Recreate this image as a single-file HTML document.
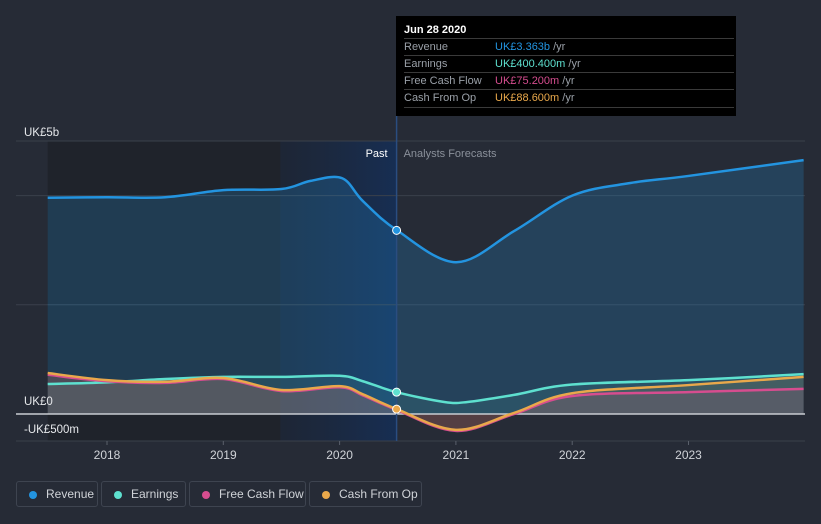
<!DOCTYPE html>
<html><head><meta charset="utf-8"><style>
body{margin:0;background:#262b36;font-family:"Liberation Sans",sans-serif;}
#wrap{position:relative;width:821px;height:524px;overflow:hidden;}
.leg{position:absolute;top:481px;height:26px;border:1px solid #3e4450;border-radius:3px;color:#d0d3d8;font-size:12px;line-height:25px;padding:0 0 0 29px;box-sizing:border-box;white-space:nowrap}
.leg i{position:absolute;left:12px;top:9px;width:8px;height:8px;border-radius:50%}
#tip{position:absolute;left:396px;top:16px;width:340px;height:100px;background:#000;font-size:11px;color:#9aa0a8}
#tip .r{position:absolute;left:8px;width:330px;border-top:1px solid #3a3a3a;height:17px;line-height:17px}
#tip .r b{font-weight:normal;position:absolute;left:91px}
</style></head><body><div id="wrap">
<svg id="svg" width="821" height="524" style="position:absolute;left:0;top:0"></svg>
<div id="tip">
<div style="position:absolute;left:8px;top:8px;color:#fff;font-weight:bold;font-size:11px">Jun 28 2020</div>
<div class="r" style="top:22px">Revenue<b><span style="color:#2394e0">UK£3.363b</span> /yr</b></div>
<div class="r" style="top:39px">Earnings<b><span style="color:#5ee0cf">UK£400.400m</span> /yr</b></div>
<div class="r" style="top:56px">Free Cash Flow<b><span style="color:#d64d8f">UK£75.200m</span> /yr</b></div>
<div class="r" style="top:73px;border-bottom:1px solid #3a3a3a">Cash From Op<b><span style="color:#e9a84b">UK£88.600m</span> /yr</b></div>
</div>
<div class="leg" style="left:16px;width:82px"><i style="background:#2394e0"></i>Revenue</div>
<div class="leg" style="left:101px;width:85px"><i style="background:#5ee0cf"></i>Earnings</div>
<div class="leg" style="left:189px;width:117px"><i style="background:#d64d8f"></i>Free Cash Flow</div>
<div class="leg" style="left:309px;width:113px"><i style="background:#e9a84b"></i>Cash From Op</div>
</div>
<script>
const revX=[2017.49,2018,2018.5,2019,2019.5,2019.75,2020.02,2020.2,2020.49,2021,2021.5,2022,2022.5,2023,2023.99];
const revY=[3.96,3.97,3.97,4.1,4.12,4.27,4.32,3.9,3.37,2.78,3.35,4.0,4.23,4.36,4.65];
const earnX=[2017.49,2018,2018.5,2019,2019.5,2020,2020.2,2020.49,2020.9,2021.1,2021.5,2022,2023,2023.99];
const earnY=[0.55,0.58,0.64,0.68,0.68,0.7,0.6,0.40,0.22,0.22,0.35,0.54,0.62,0.73];
const cfoX=[2017.49,2018,2018.5,2019,2019.5,2020,2020.2,2020.49,2021,2021.5,2022,2023,2023.99];
const cfoY=[0.75,0.62,0.59,0.66,0.44,0.51,0.36,0.09,-0.29,0.02,0.38,0.53,0.68];
const fcfX=[2017.49,2018,2018.5,2019,2019.5,2020,2020.2,2020.49,2021,2021.5,2022,2023,2023.99];
const fcfY=[0.72,0.6,0.57,0.64,0.42,0.49,0.34,0.075,-0.31,0.0,0.33,0.40,0.46];
const xTicks=[2018,2019,2020,2021,2022,2023];
const yLabels=[["UK£5b",136],["UK£0",405],["-UK£500m",433]];
const pastEnd=2020.49;
const X=v=>107+(v-2018)*116.3, Y=v=>414-v*54.6;
const svg=document.getElementById('svg'),NS='http://www.w3.org/2000/svg';
function mk(t,a,name){const e=document.createElementNS(NS,t);for(const k in a)e.setAttribute(k,a[k]);


svg.appendChild(e);return e;}
svg.innerHTML='<defs><linearGradient id="hl" x1="0" x2="1"><stop offset="0" stop-color="#1b2a45" stop-opacity="0.4"/><stop offset="1" stop-color="#15305a" stop-opacity="0.85"/></linearGradient></defs>';
mk('rect',{x:X(2017.49),y:141,width:X(pastEnd)-X(2017.49),height:300,fill:'#1f232b'},'past-region');
mk('rect',{x:X(2019.49),y:141,width:X(pastEnd)-X(2019.49),height:300,fill:'url(#hl)'},'past-highlight');
[5,4,2].forEach(v=>mk('line',{x1:16,x2:805,y1:Y(v),y2:Y(v),stroke:'#3a404b'},'gridline'));
mk('line',{x1:16,x2:805,y1:441,y2:441,stroke:'#3a404b'},'x-axis-line');
function path(xs,ys){const p=xs.map((x,i)=>[X(x),Y(ys[i])]);let d='M'+p[0];
for(let i=0;i<p.length-1;i++){const a=p[i-1]||p[i],b=p[i],c=p[i+1],e=p[i+2]||c;
d+=` C${b[0]+(c[0]-a[0])/6},${b[1]+(c[1]-a[1])/6} ${c[0]-(e[0]-b[0])/6},${c[1]-(e[1]-b[1])/6} ${c[0]},${c[1]}`;}return d;}
function series(xs,ys,col,op,name){const d=path(xs,ys);
mk('path',{d:d+`L${X(xs[xs.length-1])},${Y(0)}L${X(xs[0])},${Y(0)}Z`,fill:col,'fill-opacity':op},name+'-area');
return d;}
const lines=[[revX,revY,'#2394e0',0.22,'revenue'],[earnX,earnY,'#5ee0cf',0.1,'earnings'],[fcfX,fcfY,'#d64d8f',0.13,'free-cash-flow'],[cfoX,cfoY,'#e9a84b',0.13,'cash-from-op']];
const ds=lines.map(l=>series(...l));
mk('line',{x1:16,x2:805,y1:Y(0),y2:Y(0),stroke:'#c8ccd2','stroke-width':1.5},'zero-line');
lines.forEach((l,i)=>mk('path',{d:ds[i],fill:'none',stroke:l[2],'stroke-width':2.5},l[4]+'-line'));
mk('line',{x1:X(pastEnd),x2:X(pastEnd),y1:116,y2:441,stroke:'#2a4d80','stroke-width':1.5},'cursor-line');
[[3.363,'#2394e0'],[0.4,'#5ee0cf'],[0.0886,'#e9a84b']].forEach(p=>mk('circle',{cx:X(pastEnd),cy:Y(p[0]),r:4,fill:p[1],stroke:'#fff','stroke-width':1},'cursor-point'));
function txt(s,x,y,a,col,size,name){const t=mk('text',{x:x,y:y,'text-anchor':a,fill:col,'font-size':size,'font-family':'Liberation Sans, sans-serif'},name);t.textContent=s;}
xTicks.forEach(t=>{mk('line',{x1:X(t),x2:X(t),y1:441,y2:445,stroke:'#5a606b'},'x-tick');txt(t,X(t),459,'middle','#d0d3d8',12,'x-tick-label');});
yLabels.forEach(l=>txt(l[0],24,l[1],'start','#e6e8eb',11.5,'y-axis-label'));
txt('Past',X(pastEnd)-9,157,'end','#ffffff',11,'past-label');
txt('Analysts Forecasts',X(pastEnd)+7,157,'start','#8a909a',11,'forecast-label');
</script></body></html>
